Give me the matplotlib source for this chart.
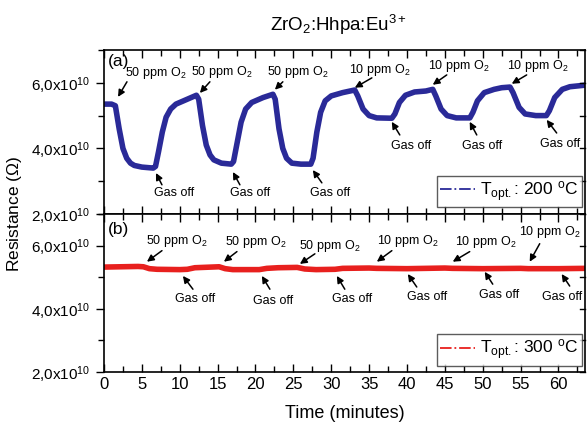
import numpy as np
import matplotlib
matplotlib.use("Agg")
import matplotlib.pyplot as plt
from matplotlib.ticker import MultipleLocator, FuncFormatter

plt.rcParams['font.family'] = ['Liberation Sans', 'DejaVu Sans']
plt.rcParams['mathtext.fontset'] = 'custom'
plt.rcParams['mathtext.rm'] = 'Liberation Sans'
plt.rcParams['mathtext.it'] = 'Liberation Sans'
plt.rcParams['mathtext.default'] = 'regular'

# panel (a): 200 C, time in minutes, resistance in units of 1e10 ohm
time_a = [0, 1.0, 1.5, 2.0, 2.5, 3.0, 3.5, 4.0, 5.0, 6.5, 6.8, 7.2, 7.7, 8.2, 8.8, 9.5,
          10.5, 11.5, 12.2, 12.5, 13.0, 13.5, 14.0, 14.5, 15.5, 16.8, 17.1, 17.6, 18.1,
          18.7, 19.5, 21.0, 22.3, 22.6, 23.1, 23.6, 24.1, 24.8, 26.0, 27.3, 27.6, 28.1,
          28.6, 29.2, 30.0, 31.5, 33.1, 33.5, 34.2, 35.0, 36.0, 38.0, 38.4, 39.0, 39.8,
          41.0, 42.5, 43.4, 43.8, 44.5, 45.3, 46.5, 48.3, 48.7, 49.3, 50.2, 51.5, 52.5,
          53.6, 54.0, 54.8, 55.6, 57.0, 58.4, 58.8, 59.5, 60.5, 61.5, 63.6]
res_a = [5.35, 5.35, 5.30, 4.60, 4.00, 3.70, 3.55, 3.48, 3.43, 3.40, 3.45, 3.90, 4.50,
         4.95, 5.20, 5.35, 5.45, 5.55, 5.62, 5.50, 4.70, 4.10, 3.80, 3.65, 3.55, 3.52,
         3.60, 4.20, 4.80, 5.20, 5.40, 5.55, 5.65, 5.50, 4.60, 4.00, 3.70, 3.55, 3.52,
         3.52, 3.70, 4.50, 5.10, 5.45, 5.60, 5.70, 5.78, 5.60, 5.20, 5.00, 4.93, 4.92,
         5.05, 5.40, 5.62, 5.72, 5.75, 5.80, 5.60, 5.20, 5.00, 4.93, 4.93, 5.10, 5.45,
         5.70, 5.80, 5.85, 5.87, 5.70, 5.25, 5.05, 5.00, 5.00, 5.15, 5.55, 5.80, 5.88, 5.93]

# panel (b): 300 C
time_b = [0, 4.5, 5.2, 6.0, 7.0, 10.0, 11.0, 12.0, 15.2, 16.0, 17.0, 20.5, 21.5, 23.0,
          25.5, 26.5, 28.0, 30.5, 31.5, 35.0, 36.0, 40.0, 45.0, 46.0, 50.0, 55.0, 56.0,
          60.0, 63.6]
res_b = [5.32, 5.34, 5.33, 5.27, 5.25, 5.24, 5.25, 5.30, 5.33, 5.27, 5.24, 5.24, 5.28,
         5.30, 5.31, 5.26, 5.24, 5.25, 5.28, 5.29, 5.28, 5.27, 5.29, 5.28, 5.27, 5.28,
         5.27, 5.27, 5.28]

# annotations: (label, text x, text y, arrow tail x, tail y, arrow head x, head y)
notes_a = [
    ("50 ppm O$_2$", 6.86, 6.31, 3.03, 6.03, 1.85, 5.57),
    ("50 ppm O$_2$", 15.57, 6.34, 13.98, 6.03, 12.66, 5.69),
    ("50 ppm O$_2$", 25.59, 6.34, 23.61, 6.03, 22.56, 5.79),
    ("10 ppm O$_2$", 36.41, 6.40, 35.36, 6.15, 33.11, 5.85),
    ("10 ppm O$_2$", 46.83, 6.52, 45.25, 6.24, 43.40, 5.94),
    ("10 ppm O$_2$", 57.26, 6.52, 55.80, 6.24, 53.83, 5.97),
    ("Gas off", 9.23, 2.64, 7.65, 2.89, 6.86, 3.25),
    ("Gas off", 19.26, 2.64, 17.94, 2.89, 17.02, 3.28),
    ("Gas off", 29.82, 2.64, 28.76, 2.95, 27.57, 3.34),
    ("Gas off", 40.50, 4.08, 39.05, 4.41, 37.99, 4.81),
    ("Gas off", 49.87, 4.08, 49.21, 4.41, 48.28, 4.81),
    ("Gas off", 60.16, 4.14, 59.76, 4.47, 58.44, 4.87),
]
notes_b = [
    ("50 ppm O$_2$", 9.63, 6.13, 7.65, 5.84, 5.67, 5.49),
    ("50 ppm O$_2$", 20.05, 6.10, 17.55, 5.81, 15.83, 5.49),
    ("50 ppm O$_2$", 29.82, 6.00, 27.84, 5.74, 25.86, 5.42),
    ("10 ppm O$_2$", 40.11, 6.16, 38.00, 5.84, 36.02, 5.49),
    ("10 ppm O$_2$", 50.40, 6.10, 48.28, 5.81, 46.04, 5.49),
    ("10 ppm O$_2$", 58.84, 6.42, 57.52, 6.06, 56.20, 5.49),
    ("Gas off", 12.00, 4.30, 11.74, 4.62, 10.42, 5.04),
    ("Gas off", 22.30, 4.24, 21.90, 4.62, 20.84, 5.04),
    ("Gas off", 32.72, 4.30, 31.79, 4.62, 30.74, 5.04),
    ("Gas off", 42.61, 4.37, 41.29, 4.69, 40.11, 5.10),
    ("Gas off", 52.11, 4.43, 51.32, 4.78, 50.26, 5.17),
    ("Gas off", 60.42, 4.37, 61.48, 4.72, 60.42, 5.10),
]

blue = '#2a2a98'
red = '#e8201e'

fig = plt.figure(figsize=(5.87, 4.28), dpi=100)
ax1 = fig.add_axes([104/587, 0.5, 481/587, 0.3832])
ax2 = fig.add_axes([104/587, 1 - 372/428, 481/587, 0.5 - (1 - 372/428)], sharex=ax1)

ytick_fmt = FuncFormatter(lambda v, p: "%s,0x10$^{10}$" % int(round(v)))


def style_axes(ax, bottom_labels):
    ax.set_xlim(0, 63.5)
    ax.set_ylim(2, 7)
    ax.xaxis.set_major_locator(MultipleLocator(5))
    ax.xaxis.set_minor_locator(MultipleLocator(2.5))
    ax.yaxis.set_major_locator(MultipleLocator(2))
    ax.yaxis.set_minor_locator(MultipleLocator(1))
    ax.yaxis.set_major_formatter(ytick_fmt)
    ax.tick_params(axis='x', which='both', direction='in', top=True, bottom=True,
                   labelbottom=bottom_labels, labelsize=12, width=1)
    ax.tick_params(axis='x', which='major', length=6)
    ax.tick_params(axis='x', which='minor', length=4)
    ax.tick_params(axis='y', which='both', direction='out', left=True, right=False,
                   labelsize=11, width=1)
    ax.tick_params(axis='y', which='major', length=6)
    ax.tick_params(axis='y', which='minor', length=4)
    for s in ax.spines.values():
        s.set_linewidth(1.2)
    # inward ticks on the right spine
    for v in [2, 3, 4, 5, 6, 7]:
        ax.plot([63.5 - 0.7, 63.5], [v, v], color='black', lw=1, clip_on=False)


def add_notes(ax, notes):
    for label, tx, ty, ax0, ay0, hx, hy in notes:
        ax.text(tx, ty, label, fontsize=9, ha='center', va='center')
        ax.annotate("", xy=(hx, hy), xytext=(ax0, ay0),
                    arrowprops=dict(arrowstyle='-|>', color='black', lw=1.1,
                                    mutation_scale=10, shrinkA=0, shrinkB=0))


ax1.plot(time_a, res_a, color=blue, lw=4, solid_capstyle='butt', label='_')
ax1.plot([], [], color=blue, lw=1.3, ls='-.', label='T$_{opt.}$: 200 $^{o}$C')
ax2.plot(time_b, res_b, color=red, lw=4, solid_capstyle='butt', label='_')
ax2.plot([], [], color=red, lw=1.3, ls='-.', label='T$_{opt.}$: 300 $^{o}$C')

style_axes(ax1, False)
style_axes(ax2, True)
add_notes(ax1, notes_a)
add_notes(ax2, notes_b)

for ax in (ax1, ax2):
    leg = ax.legend(loc='lower right', fontsize=12.5, frameon=True, fancybox=False,
                    handlelength=2.0, handletextpad=0.3, borderpad=0.2, borderaxespad=0,
                    bbox_to_anchor=(0.993, 0.04))
    leg.get_frame().set_edgecolor('#333333')
    leg.get_frame().set_linewidth(1)

ax1.text(0.008, 0.93, "(a)", transform=ax1.transAxes, fontsize=12.5, ha='left', va='center')
ax2.text(0.008, 0.90, "(b)", transform=ax2.transAxes, fontsize=12.5, ha='left', va='center')

fig.text(338/587, 1 - 25/428, "ZrO$_2$:Hhpa:Eu$^{3+}$", fontsize=13.5, ha='center', va='center')
fig.text(15/587, 0.5, "Resistance ($\\Omega$)", fontsize=12.5, rotation=90, ha='center', va='center')
fig.text(345/587, 1 - 414/428, "Time (minutes)", fontsize=13, ha='center', va='center')

fig.savefig("out.png", dpi=100)
